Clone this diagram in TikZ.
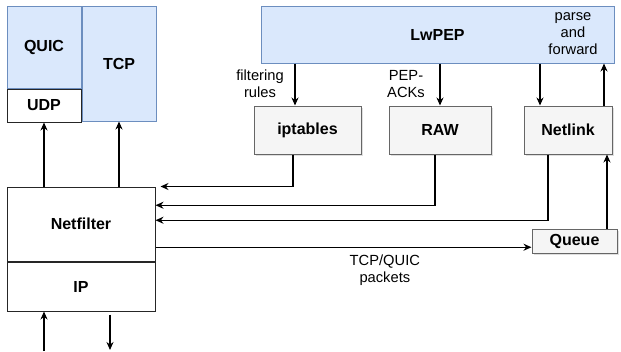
\documentclass[tikz,border=0pt]{standalone}
\usepackage{fontspec}
\setmainfont{Liberation Sans}
\usepackage{tikz}
\usetikzlibrary{arrows.meta, positioning, calc, shadows}

\definecolor{pepblue}{HTML}{DAE8FC}
\definecolor{pepblueline}{HTML}{6C8EBF}
\definecolor{modgray}{HTML}{F5F5F5}
\definecolor{modgrayline}{HTML}{666666}

\begin{document}
\begin{tikzpicture}[
  x=1pt, y=-1pt,
  font=\fontsize{14.7}{17}\selectfont,
  layer/.style={draw=pepblueline, fill=pepblue, line width=1pt, align=center,
                inner sep=0pt, font=\fontsize{16}{18}\selectfont\bfseries},
  plain/.style={draw=black!85, fill=white, line width=1pt, inner sep=0pt,
                font=\fontsize{16}{18}\selectfont\bfseries},
  module/.style={draw=modgrayline, fill=modgray, line width=1pt, inner sep=0pt,
                 font=\fontsize{16}{18}\selectfont\bfseries,
                 drop shadow={shadow xshift=2pt, shadow yshift=-2pt, opacity=0.25}},
  lbl/.style={align=center, inner sep=0pt},
  arr/.style={-{Stealth[length=8pt, width=7pt]}, line width=1.3pt},
  node distance=0pt
]
\useasboundingbox (0,0) rectangle (621,351);

\node[layer, minimum width=74pt, minimum height=82pt] (quic) at (44,47) {QUIC};
\node[plain, minimum width=74pt, minimum height=33pt, below=of quic] (udp) {UDP};
\node[layer, minimum width=74pt, minimum height=115pt, anchor=north west] (tcp) at (quic.north east) {TCP};
\node[plain, minimum width=148pt, minimum height=74pt] (netfilter) at (81,224) {Netfilter};
\node[plain, minimum width=148pt, minimum height=49pt, below=of netfilter] (ip) {IP};

\node[layer, minimum width=353pt, minimum height=57pt] (lwpep) at (437.5,34.5) {LwPEP};
\node[lbl] (pf) at (573,34) {parse\\and\\forward};
\node[module, minimum width=107pt, minimum height=48pt] (iptables) at (307.5,130) {iptables};
\node[module, minimum width=102pt, minimum height=48pt] (raw) at (440,130) {RAW};
\node[module, minimum width=88pt, minimum height=48pt] (netlink) at (568,130) {Netlink};
\node[module, minimum width=85pt, minimum height=24pt] (queue) at (574.5,241) {Queue};

\node[lbl] (filt) at (260,84) {filtering\\rules};
\node[lbl] (pepack) at (406,84.5) {PEP-\\ACKs};

\coordinate (ipt) at ([xshift=-12.5pt]iptables.north);
\coordinate (nld) at ([xshift=-28pt]netlink.north);
\coordinate (nlu) at ([xshift=36pt]netlink.north);
\coordinate (qup) at ([xshift=32.5pt]queue.north);
\coordinate (nfa) at ([xshift=5pt]netfilter.north east);
\coordinate (nfb) at ($(netfilter.north east)!0.25!(netfilter.south east)$);
\coordinate (nfc) at ($(netfilter.north east)!0.45!(netfilter.south east)$);
\coordinate (nfq) at ($(netfilter.north east)!0.81!(netfilter.south east)$);
\coordinate (inb) at (44,351);
\coordinate (outb) at (110,350);

\draw[arr] (lwpep.south -| ipt) -- (ipt);
\draw[arr] (lwpep.south -| raw.north) -- (raw.north);
\draw[arr] (lwpep.south -| nld) -- (nld);
\draw[arr] (nlu) -- (lwpep.south -| nlu);

\draw[arr] ([xshift=-14.5pt]iptables.south) |- (nfa);
\draw[arr] ([xshift=-5pt]raw.south) |- (nfb);
\draw[arr] ([xshift=-20pt]netlink.south) |- (nfc);
\draw[arr] (nfq) -- (queue.west |- nfq) node[lbl, pos=0.61, below=7pt] {TCP/QUIC\\packets};
\draw[arr] (qup) -- (qup |- netlink.south);

\draw[arr] (netfilter.north -| udp) -- (udp.south);
\draw[arr] (netfilter.north -| tcp) -- (tcp.south);
\draw[arr] (inb) -- (inb |- ip.south);
\draw[arr] ($(ip.south -| outb)+(0,3)$) -- (outb);
\end{tikzpicture}
\end{document}
